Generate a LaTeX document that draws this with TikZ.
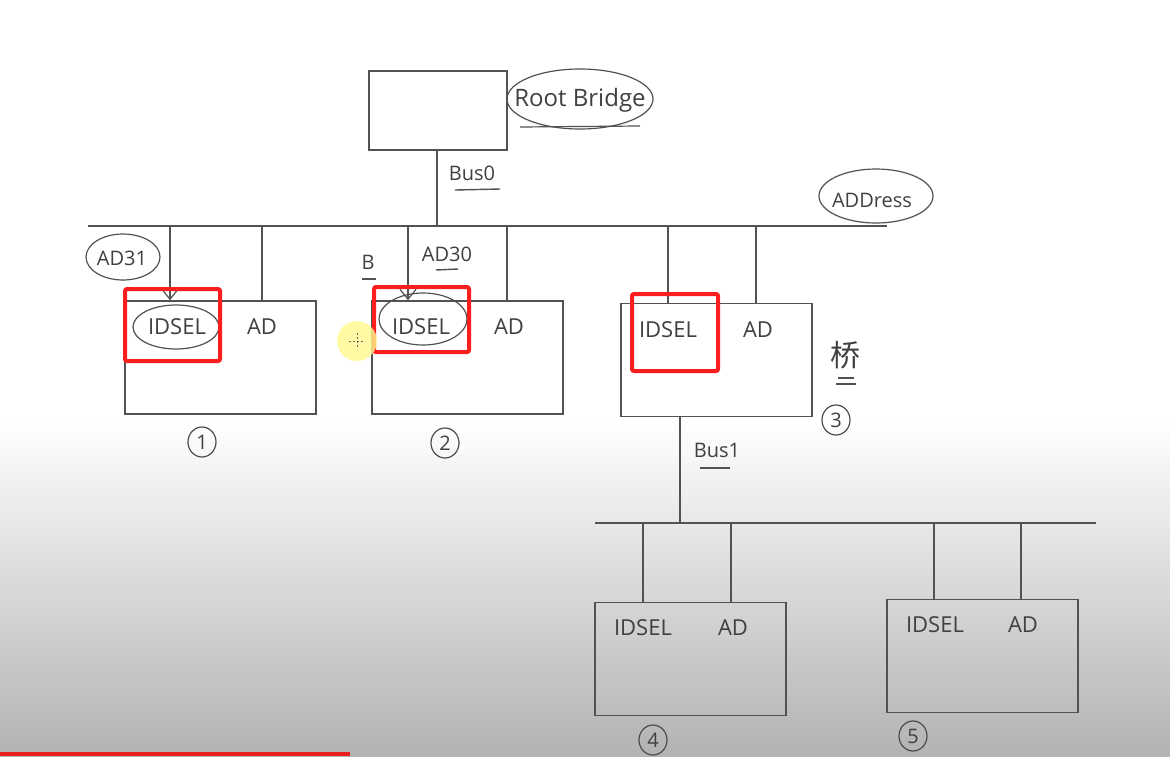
\documentclass[tikz,border=0pt]{standalone}
\usepackage{fontspec}
\setmainfont{Open Sans}
\newfontfamily\cjk{Noto Sans CJK SC}
\usetikzlibrary{arrows.meta,shapes.geometric}
\definecolor{hlred}{RGB}{250,30,30}
\definecolor{barred}{RGB}{230,30,30}
\begin{document}
\begin{tikzpicture}[x=1pt,y=-1pt,
  ink/.style={draw=black!68, line width=1.4pt},
  card/.style={draw=black!68, line width=1.5pt, minimum width=191pt, minimum height=113pt, inner sep=0pt},
  lbl/.style={text=black!75, font=\fontsize{22}{26}\selectfont, inner sep=1pt},
  small/.style={text=black!75, font=\fontsize{20}{24}\selectfont, inner sep=1pt},
  ring/.style={ink, line width=1.2pt},
  hl/.style={draw=hlred, line width=4pt, rounded corners=2pt},
  num/.style={ellipse, draw=black!70, line width=1.2pt, text=black!75, font=\fontsize{20}{22}\selectfont, inner sep=1pt, minimum width=28pt, minimum height=30pt},
  tip/.style={-{Straight Barb[length=10pt,width=16pt,line width=1.2pt]}}]
\useasboundingbox (0,0) rectangle (1170,756);
% background
\fill[white] (0,0) rectangle (1170,756);
\shade[top color=white, bottom color=black!30] (0,420) rectangle (1170,756);
\fill[barred] (0,752) rectangle (350,756);

% root bridge
\node[card, minimum width=138pt, minimum height=79pt] (root) at (438,110.5) {};
\node[lbl, font=\fontsize{24}{28}\selectfont] (rootlbl) at (580,100) {Root Bridge};
\draw[ring] (580,99) ellipse (73 and 30);
\draw[ink, line width=1.2pt] (520,127) -- (640,126);

% bus 0
\coordinate (bus0L) at (88,226);
\coordinate (bus0R) at (887,226);
\draw[ink] (bus0L) -- (bus0R);
\coordinate (b0top) at (437,226);
\draw[ink] (root.south -| b0top) -- (b0top);
\node[small] (bus0lbl) at (472,173) {Bus0};
\draw[ink] (455,190) -- (500,189);
\node[small] (addr) at (872,200) {ADDress};
\draw[ring] (876,196) ellipse (57 and 27);

% device 1
\node[card] (d1) at (220.5,357.5) {};
\coordinate (d1a) at (170,226);
\coordinate (d1b) at (262,226);
\draw[ink, tip] (d1a) -- (d1.north -| d1a);
\draw[ink] (d1b) -- (d1.north -| d1b);
\node[lbl] (d1id) at (177,327) {IDSEL};
\draw[ring] (176,327) ellipse (43 and 22);
\node[lbl] (d1ad) at (262,327) {AD};
\node[small] (ad31) at (122,258) {AD31};
\draw[ring] (123,257) ellipse (37 and 23);
\draw[hl] (125,289) rectangle (220,361);
\node[num] (n1) at (202,442) {1};

% device 2
\node[card] (d2) at (467.5,357.5) {};
\coordinate (d2a) at (408,226);
\coordinate (d2b) at (507,226);
\draw[ink, tip] (d2a) -- (d2.north -| d2a);
\draw[ink] (d2b) -- (d2.north -| d2b);
\node[lbl] (d2id) at (421,327) {IDSEL};
\draw[ring] (423,319) ellipse (44 and 26);
\node[lbl] (d2ad) at (509,327) {AD};
\node[small] (blbl) at (368,262) {B};
\draw[ink] (362,279) -- (376,279);
\node[small] (ad30) at (447,254) {AD30};
\draw[ink] (436,270) -- (458,269);
\draw[hl] (374,287) rectangle (469,352);
\node[num] (n2) at (445,443) {2};
\fill[yellow!45, opacity=0.8] (357,341) circle (20);
\draw[black!60, line width=1pt, dash pattern=on 2pt off 2pt] (349,341) -- (365,341) (357,333) -- (357,349);

% device 3 (bridge)
\node[card] (d3) at (716.5,360) {};
\coordinate (d3a) at (668,226);
\coordinate (d3b) at (756,226);
\draw[ink] (d3a) -- (d3.north -| d3a);
\draw[ink] (d3b) -- (d3.north -| d3b);
\node[lbl] (d3id) at (668,330) {IDSEL};
\node[lbl] (d3ad) at (758,330) {AD};
\draw[hl] (632,294) rectangle (718,371);
\node[text=black!75, font=\cjk\fontsize{30}{32}\selectfont] (qiao) at (845,355) {桥};
\draw[ink, line width=1.2pt] (838,378) -- (854,378) (836,384) -- (856,384);
\node[num] (n3) at (836,420) {3};

% bus 1
\coordinate (b1top) at (680,523);
\draw[ink] (d3.south -| b1top) -- (b1top);
\node[small] (bus1lbl) at (717,450) {Bus1};
\draw[ink] (700,468) -- (730,468);
\coordinate (bus1L) at (595,523);
\coordinate (bus1R) at (1096,523);
\draw[ink] (bus1L) -- (bus1R);

% device 4
\node[card] (d4) at (690.5,659) {};
\coordinate (d4a) at (643,523);
\coordinate (d4b) at (731,523);
\draw[ink] (d4a) -- (d4.north -| d4a);
\draw[ink] (d4b) -- (d4.north -| d4b);
\node[lbl] (d4id) at (643,628) {IDSEL};
\node[lbl] (d4ad) at (733,628) {AD};
\node[num] (n4) at (653,740) {4};

% device 5
\node[card] (d5) at (982.5,656) {};
\coordinate (d5a) at (934,523);
\coordinate (d5b) at (1021,523);
\draw[ink] (d5a) -- (d5.north -| d5a);
\draw[ink] (d5b) -- (d5.north -| d5b);
\node[lbl] (d5id) at (935,625) {IDSEL};
\node[lbl] (d5ad) at (1023,625) {AD};
\node[num] (n5) at (913,736) {5};
\end{tikzpicture}
\end{document}
